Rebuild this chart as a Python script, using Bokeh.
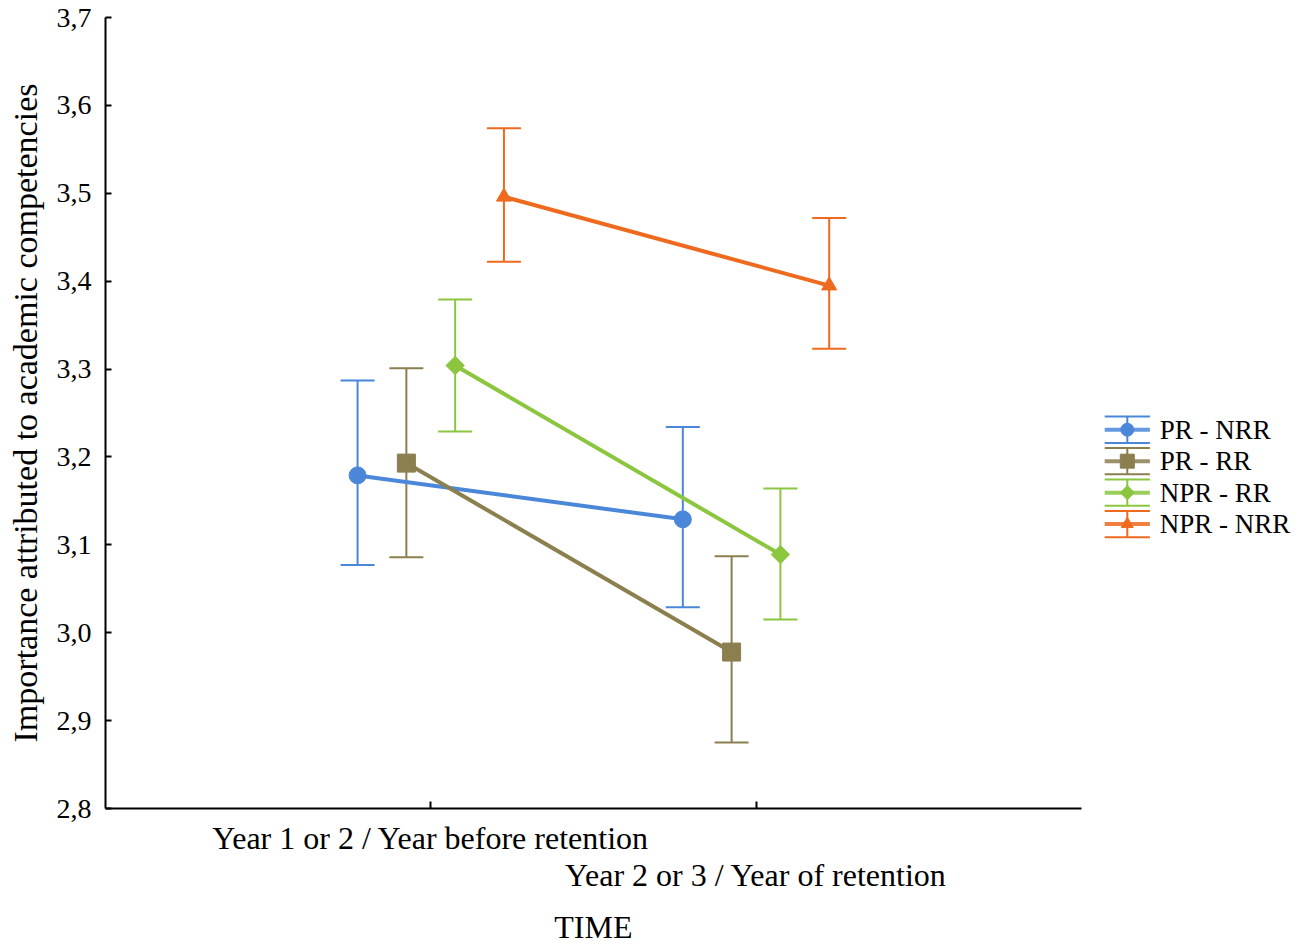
from bokeh.plotting import figure
from bokeh.models import (ColumnDataSource, Whisker, TeeHead, LinearAxis, FixedTicker,
                          Range1d, CustomJSTickFormatter)
from bokeh.embed import file_html
from bokeh.resources import INLINE
from bokeh.core.properties import value
import math

# ---------------- data ----------------
categories = ["Year 1 or 2 / Year before retention", "Year 2 or 3 / Year of retention"]
groups = ["PR - NRR", "PR - RR", "NPR - RR", "NPR - NRR"]
x_title = "TIME"
y_title = "Importance attributed to academic competencies"

pr_nrr_mean = [3.179, 3.129]
pr_nrr_low = [3.077, 3.029]
pr_nrr_high = [3.287, 3.234]

pr_rr_mean = [3.193, 2.978]
pr_rr_low = [3.086, 2.875]
pr_rr_high = [3.301, 3.087]

npr_rr_mean = [3.304, 3.089]
npr_rr_low = [3.229, 3.015]
npr_rr_high = [3.379, 3.164]

npr_nrr_mean = [3.496, 3.395]
npr_nrr_low = [3.422, 3.323]
npr_nrr_high = [3.574, 3.472]

y_ticks = [2.8, 2.9, 3.0, 3.1, 3.2, 3.3, 3.4, 3.5, 3.6, 3.7]

means = [pr_nrr_mean, pr_rr_mean, npr_rr_mean, npr_nrr_mean]
lows = [pr_nrr_low, pr_rr_low, npr_rr_low, npr_nrr_low]
highs = [pr_nrr_high, pr_rr_high, npr_rr_high, npr_nrr_high]

# ---------------- style ----------------
colors = ["#4a87d9", "#8b7f4f", "#8cc63f", "#ee6a1e"]
markers = ["circle", "square", "square", "triangle"]
angles = [0, 0, math.pi / 4, 0]
sizes = [17, 18, 13, 15]
leg_sizes = [13, 14, 10, 12]
offsets = [-0.225, -0.075, 0.075, 0.225]
FONT = "Liberation Serif"
N_CAT = len(categories)

p = figure(width=1300, height=947, output_backend="svg", toolbar_location=None,
           x_range=Range1d(0, 3.674), y_range=Range1d(2.8, 3.7),
           min_border_left=105, min_border_right=0, min_border_top=17,
           min_border_bottom=139)
p.outline_line_color = None
p.xgrid.visible = False
p.ygrid.visible = False
p.background_fill_color = "white"

# y axis
ya = p.yaxis[0]
ya.ticker = FixedTicker(ticks=y_ticks)
ya.formatter = CustomJSTickFormatter(code="return tick.toFixed(1).replace('.', ',');")
ya.axis_label = y_title
ya.axis_label_text_font = FONT
ya.axis_label_text_font_size = "34px"
ya.axis_label_text_font_style = "normal"
ya.axis_label_text_color = "black"
ya.axis_label_standoff = 10
ya.major_label_text_font = FONT
ya.major_label_text_font_size = "28px"
ya.major_label_text_color = "black"
ya.major_label_standoff = 14
ya.major_tick_in = 6
ya.major_tick_out = 0
ya.minor_tick_line_color = None
ya.axis_line_width = 2
ya.major_tick_line_width = 2
ya.axis_line_color = "black"

# x axis (first category)
xa = p.xaxis[0]
xa.ticker = FixedTicker(ticks=[1, 2])
xa.major_label_overrides = {1: categories[0], 2: ""}
xa.bounds = (0, N_CAT + 1)
xa.major_label_text_font = FONT
xa.major_label_text_font_size = "32px"
xa.major_label_text_color = "black"
xa.major_label_standoff = 11
xa.major_tick_in = 7
xa.major_tick_out = 0
xa.minor_tick_line_color = None
xa.axis_line_width = 2
xa.major_tick_line_width = 2
xa.axis_line_color = "black"

# second x-axis row (second category, staggered)
xb = LinearAxis(ticker=FixedTicker(ticks=[1, 2]))
xb.major_label_overrides = {1: "", 2: categories[1]}
xb.axis_line_color = None
xb.major_tick_line_color = None
xb.major_tick_in = 0
xb.major_tick_out = 0
xb.minor_tick_line_color = None
xb.major_label_text_font = FONT
xb.major_label_text_font_size = "32px"
xb.major_label_text_color = "black"
xb.major_label_standoff = -2
p.add_layout(xb, "below")

# third row: axis title centred under the axis span (not the whole frame)
xc = LinearAxis(ticker=FixedTicker(ticks=[(N_CAT + 1) / 2]),
                formatter=CustomJSTickFormatter(args=dict(lbl=x_title), code="return lbl;"))
xc.axis_line_color = None
xc.major_tick_line_color = None
xc.major_tick_in = 0
xc.major_tick_out = 0
xc.minor_tick_line_color = None
xc.major_label_text_font = FONT
xc.major_label_text_font_size = "32px"
xc.major_label_text_color = "black"
xc.major_label_standoff = 13
p.add_layout(xc, "below")

# series
for i, g in enumerate(groups):
    c = colors[i]
    xs = [k + 1 + offsets[i] for k in range(N_CAT)]
    src = ColumnDataSource(dict(x=xs, y=means[i], lo=lows[i], hi=highs[i]))
    w = Whisker(source=src, base="x", lower="lo", upper="hi", dimension="height",
                line_color=c, line_width=2,
                lower_head=TeeHead(size=34, line_color=c, line_width=2),
                upper_head=TeeHead(size=34, line_color=c, line_width=2))
    w.level = "underlay"
    p.add_layout(w)
    p.line("x", "y", source=src, line_color=c, line_width=4)
    p.scatter("x", "y", source=src, marker=markers[i], size=sizes[i], angle=angles[i],
              fill_color=c, line_color=c)

# hand-drawn legend (error-bar icons) to the right of the axis
LEG_X0, LEG_X1, LEG_TX = 3.072, 3.211, 3.241
LEG_Y0, LEG_DY, LEG_CAP = 3.231, 0.0358, 0.0150
leg_y = [LEG_Y0 - i * LEG_DY for i in range(len(groups))]
leg_xm = (LEG_X0 + LEG_X1) / 2
for i, g in enumerate(groups):
    c = colors[i]
    yc = leg_y[i]
    p.segment(x0=[LEG_X0, LEG_X0], x1=[LEG_X1, LEG_X1], y0=[yc + LEG_CAP, yc - LEG_CAP],
              y1=[yc + LEG_CAP, yc - LEG_CAP], line_color=c, line_width=2)
    p.segment(x0=[leg_xm], x1=[leg_xm], y0=[yc - LEG_CAP], y1=[yc + LEG_CAP],
              line_color=c, line_width=2)
    p.segment(x0=[LEG_X0], x1=[LEG_X1], y0=[yc], y1=[yc], line_color=c, line_width=4,
              line_alpha=0.85)
    p.scatter(x=[leg_xm], y=[yc], marker=markers[i], size=leg_sizes[i], angle=angles[i],
              fill_color=c, line_color=c)
    p.text(x=[LEG_TX], y=[yc], text=[g], text_font=value(FONT),
           text_font_size=value("27px"), text_baseline="middle", text_align="left",
           text_color="black")

open("out.html", "w").write(file_html(p, INLINE))
